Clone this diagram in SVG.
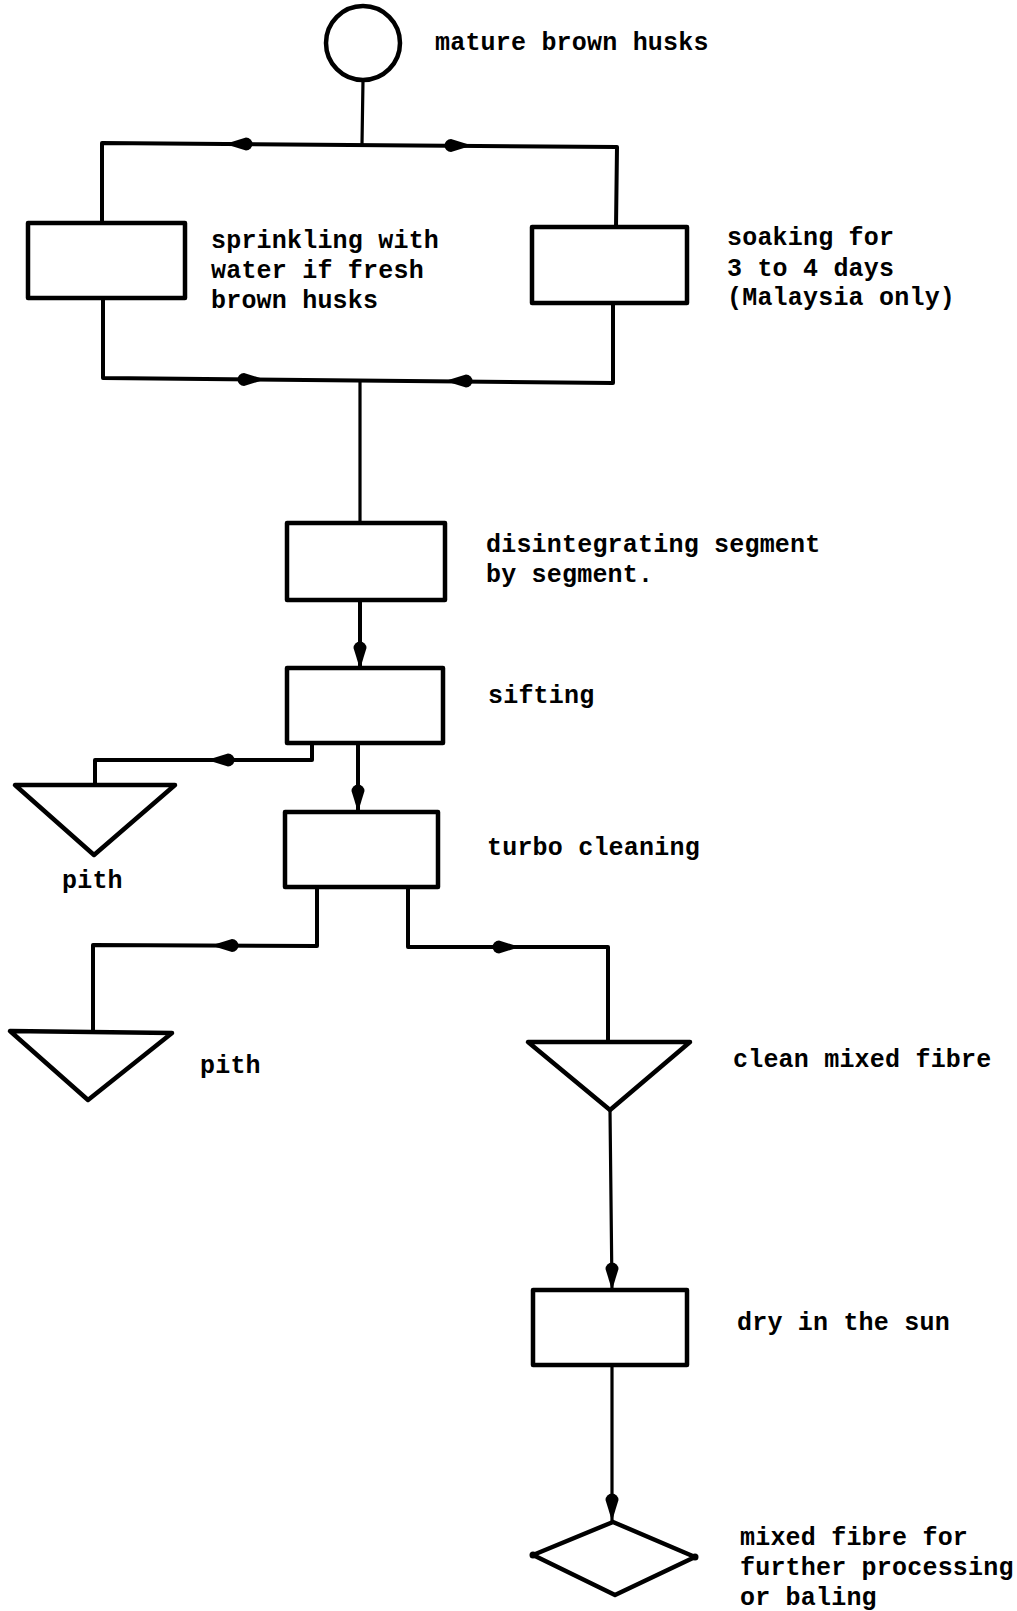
<svg xmlns="http://www.w3.org/2000/svg" xmlns:xlink="http://www.w3.org/1999/xlink" width="1017" height="1611" viewBox="0 0 1017 1611">
  <style>
    .shape { fill: none; stroke: #000; stroke-width: 4.5; stroke-linejoin: round; stroke-linecap: round; }
    .wire { fill: none; stroke: #000; stroke-width: 4; stroke-linejoin: round; stroke-linecap: round; }
    .thin { stroke-width: 3.2; }
    .head { fill: #000; stroke: none; }
    .label { font-family: "Liberation Mono", "DejaVu Sans Mono", monospace; font-weight: bold; font-size: 25px; letter-spacing: 0.2px; fill: #000; }
  </style>
  <defs>
    <!-- drafting arrowhead, tip at origin, pointing along +x -->
    <path id="ah" class="head" d="M2,0 L-19,-6.5 A6.5,6.5 0 0 0 -19,6.5 Z"/>
  </defs>

  <rect width="1017" height="1611" fill="#fff"/>

  <g id="connectors">
    <path class="wire thin" d="M363,80 L362,144"/>
    <path class="wire" d="M102,223 L102,143 L617,147 L616,227"/>
    <path class="wire" d="M103,298 L103,378 L613,383 L613,303"/>
    <path class="wire thin" d="M360,381 L360,523"/>
    <path class="wire" d="M360,600 L360,668"/>
    <path class="wire" d="M312,743 L312,760 L95,760 L95,785"/>
    <path class="wire" d="M358,743 L358,812"/>
    <path class="wire" d="M317,887 L317,946 L93,945 L93,1031"/>
    <path class="wire" d="M408,887 L408,947 L608,947 L608,1042"/>
    <path class="wire thin" d="M610,1110 L612,1290"/>
    <path class="wire thin" d="M612,1365 L612,1522"/>

    <use xlink:href="#ah" transform="translate(227,144) rotate(180)"/>
    <use xlink:href="#ah" transform="translate(470,145.5)"/>
    <use xlink:href="#ah" transform="translate(263,379.5)"/>
    <use xlink:href="#ah" transform="translate(447,381) rotate(180)"/>
    <use xlink:href="#ah" transform="translate(360,667) rotate(90)"/>
    <use xlink:href="#ah" transform="translate(209,760) rotate(180)"/>
    <use xlink:href="#ah" transform="translate(358,810) rotate(90)"/>
    <use xlink:href="#ah" transform="translate(213,945.5) rotate(180)"/>
    <use xlink:href="#ah" transform="translate(518,947)"/>
    <use xlink:href="#ah" transform="translate(612,1288) rotate(90)"/>
    <use xlink:href="#ah" transform="translate(612,1519) rotate(90)"/>
  </g>

  <g id="husks">
    <circle class="shape" cx="363" cy="43" r="37" stroke-width="3"/>
    <text class="label" x="435" y="50">mature brown husks</text>
  </g>

  <g id="sprinkling">
    <rect class="shape" x="28" y="223" width="157" height="75"/>
    <text class="label" x="211" y="248">sprinkling with</text>
    <text class="label" x="211" y="278">water if fresh</text>
    <text class="label" x="211" y="308">brown husks</text>
  </g>

  <g id="soaking">
    <rect class="shape" x="532" y="227" width="155" height="76"/>
    <text class="label" x="727" y="245">soaking for</text>
    <text class="label" x="727" y="276">3 to 4 days</text>
    <text class="label" x="727" y="305">(Malaysia only)</text>
  </g>

  <g id="disintegrating">
    <rect class="shape" x="287" y="523" width="158" height="77"/>
    <text class="label" x="486" y="552">disintegrating segment</text>
    <text class="label" x="486" y="582">by segment.</text>
  </g>

  <g id="sifting">
    <rect class="shape" x="287" y="668" width="156" height="75"/>
    <text class="label" x="488" y="703">sifting</text>
  </g>

  <g id="pith-sifting">
    <polygon class="shape" points="15,785 175,785 94,855"/>
    <text class="label" x="62" y="888">pith</text>
  </g>

  <g id="turbo">
    <rect class="shape" x="285" y="812" width="153" height="75"/>
    <text class="label" x="487" y="855">turbo cleaning</text>
  </g>

  <g id="pith-turbo">
    <polygon class="shape" points="10,1031 172,1033 88,1100"/>
    <text class="label" x="200" y="1073">pith</text>
  </g>

  <g id="clean-fibre">
    <polygon class="shape" points="528,1042 690,1042 610,1110"/>
    <text class="label" x="733" y="1067">clean mixed fibre</text>
  </g>

  <g id="drying">
    <rect class="shape" x="533" y="1290" width="154" height="75"/>
    <text class="label" x="737" y="1330">dry in the sun</text>
  </g>

  <g id="mixed-fibre">
    <polygon class="shape" points="613,1522 695,1557 615,1595 533,1555"/>
    <circle class="head" cx="533" cy="1555" r="3.5"/>
    <circle class="head" cx="695" cy="1557" r="3.5"/>
    <text class="label" x="740" y="1545">mixed fibre for</text>
    <text class="label" x="740" y="1575">further processing</text>
    <text class="label" x="740" y="1605">or baling</text>
  </g>
</svg>
